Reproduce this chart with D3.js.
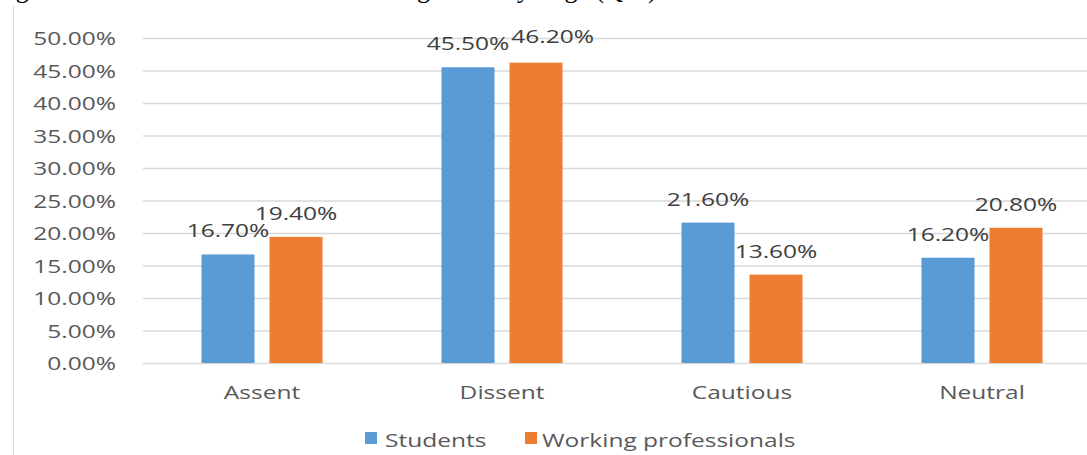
<!DOCTYPE html>
<html><head><meta charset="utf-8">
<script src="https://cdn.jsdelivr.net/npm/d3@7"></script>
<style>body{margin:0;background:#fff;overflow:hidden}svg{display:block}</style>
</head><body>
<script>
const categories = ["Assent", "Dissent", "Cautious", "Neutral"];
const seriesNames = ["Students", "Working professionals"];
const students = [16.7, 45.5, 21.6, 16.2];
const professionals = [19.4, 46.2, 13.6, 20.8];
const yTicks = [0, 5, 10, 15, 20, 25, 30, 35, 40, 45, 50];
const colors = ["#5B9BD5", "#ED7D31"];

const W = 1087, H = 455;
const svg = d3.select("body").append("svg").attr("width", W).attr("height", H);
const FONT = "'Open Sans', sans-serif";
const SX = 1.29;

function txt(g, x, y, s, opts) {
  return g.append("text")
    .attr("transform", `translate(${x},${y}) scale(${opts.sx || SX},1)`)
    .attr("text-anchor", opts.anchor || "middle")
    .attr("font-family", opts.family || FONT)
    .attr("font-size", opts.size || 19)
    .attr("fill", opts.fill || "#595959")
    .text(s);
}

// clipped caption at top (only descenders visible)
const cap = svg.append("g");
const capOpts = {anchor: "start", family: "'Liberation Serif', serif", size: 26, fill: "#000", sx: 1};
txt(cap, -6, -2, "Figure 5:", capOpts);
txt(cap, 430, -2, "Attitude towards the sharing", Object.assign({}, capOpts, {anchor: "end"}));
txt(cap, 445, -2, "of AI", capOpts);
txt(cap, 530, -2, "by", Object.assign({}, capOpts, {anchor: "end"}));
txt(cap, 553, -2, "age (Q11)", capOpts);

// left border
svg.append("line").attr("x1", 13.5).attr("x2", 13.5).attr("y1", 6).attr("y2", H).attr("stroke", "#d9d9d9");

const x0 = d3.scaleBand().domain(categories).range([142, 1102]);
const x1 = d3.scaleBand().domain(seriesNames).range([0, x0.bandwidth()]).paddingInner(0.22).paddingOuter(0.875);
const y = d3.scaleLinear().domain([0, 50]).range([363, 38]);

// gridlines
svg.append("g").selectAll("line").data(yTicks).join("line")
  .attr("x1", 143).attr("x2", W).attr("y1", d => y(d) + 0.5).attr("y2", d => y(d) + 0.5)
  .attr("stroke", "#d9d9d9").attr("stroke-width", 1.5);

// y tick labels
const yl = svg.append("g");
yTicks.forEach(t => txt(yl, 116, y(t) + 7, t.toFixed(2) + "%", {anchor: "end"}));

// bars
const series = [students, professionals];
const bars = svg.append("g");
categories.forEach((c, i) => {
  series.forEach((vals, s) => {
    const bx = x0(c) + x1(seriesNames[s]);
    bars.append("rect").attr("x", bx).attr("y", y(vals[i])).attr("width", x1.bandwidth())
      .attr("height", y(0) - y(vals[i])).attr("fill", colors[s]);
  });
});
// data labels with simple collision avoidance (like the spreadsheet's label placement)
const lblG = svg.append("g");
categories.forEach((c, i) => {
  let prev = null, prevY = 0;
  series.forEach((vals, s) => {
    const cx = x0(c) + x1(seriesNames[s]) + x1.bandwidth() / 2;
    const ly = y(vals[i]) - 17;
    const t = txt(lblG, cx, ly, vals[i].toFixed(2) + "%", {fill: "#404040"});
    if (prev && Math.abs(prevY - ly) < 14) {
      const a = prev.node().getBoundingClientRect();
      const b = t.node().getBoundingClientRect();
      if (a.right + 2 > b.left) {
        const dx = a.right + 2 - b.left;
        t.attr("transform", `translate(${cx + dx},${ly - 3}) scale(${SX},1)`);
      }
    }
    prev = t; prevY = ly;
  });
});

// category labels
categories.forEach(c => txt(svg, x0(c) + x0.bandwidth() / 2, 399, c, {}));

// legend
const lg = svg.append("g");
const legendPos = [[365, 385], [525, 542]];
seriesNames.forEach((n, s) => {
  lg.append("rect").attr("x", legendPos[s][0]).attr("y", 432).attr("width", 12).attr("height", 12).attr("fill", colors[s]);
  txt(lg, legendPos[s][1], 447, n, {anchor: "start"});
});
</script>
</body></html>
